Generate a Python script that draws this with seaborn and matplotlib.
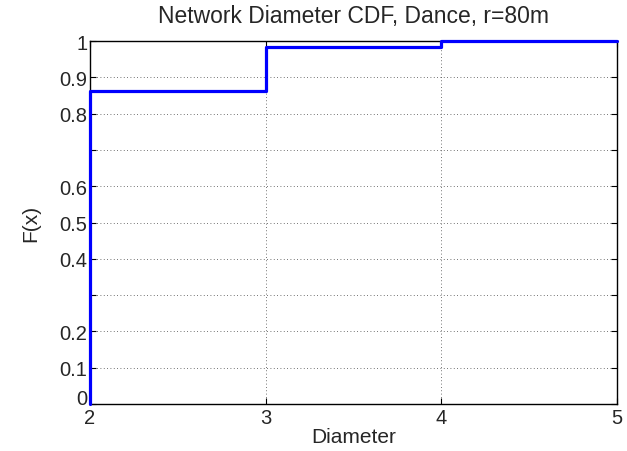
import matplotlib
matplotlib.use("Agg")
import matplotlib.pyplot as plt
import seaborn as sns
import pandas as pd

diameter = [2, 2, 3, 4, 5]
cdf = [0.0, 0.862, 0.983, 1.0, 1.0]
xticks = [2, 3, 4, 5]
yticks = [0, 0.1, 0.2, 0.3, 0.4, 0.5, 0.6, 0.7, 0.8, 0.9, 1.0]
ytick_labels = ["0", "0.1", "0.2", "", "0.4", "0.5", "0.6", "", "0.8", "0.9", "1"]

sns.set_theme(style="white")
plt.rcParams['font.family'] = ['Liberation Sans', 'DejaVu Sans']

df = pd.DataFrame({"Diameter": diameter, "F": cdf})

fig = plt.figure(figsize=(6.27, 4.52), dpi=100)
ax = fig.add_axes([0.1435, 0.104, 0.8405, 0.803])
sns.lineplot(data=df, x="Diameter", y="F", ax=ax, drawstyle="steps-post",
             color="#0000ff", linewidth=2.3, sort=False, estimator=None,
             zorder=5, clip_on=False)
ax.set_xlim(2, 5)
ax.set_ylim(0, 1)
ax.set_xticks(xticks, labels=[str(t) for t in xticks])
ax.set_yticks(yticks, labels=ytick_labels)
ax.grid(True, linestyle=(0, (1, 3)), color="#444444", linewidth=0.6)
ax.tick_params(direction="in", length=4, width=0.8, color="black",
               labelsize=14.5, top=True, right=True, left=True, bottom=True, pad=2)
ax.tick_params(axis="x", pad=3)
ax.yaxis.get_major_ticks()[0].label1.set_verticalalignment("baseline")
for s in ax.spines.values():
    s.set_color("black")
    s.set_linewidth(1.0)
ax.set_xlabel("Diameter", fontsize=15, labelpad=0)
ax.yaxis.set_label_coords(-0.095, 0.5)
ax.set_ylabel("F(x)", fontsize=15)
ax.set_title("Network Diameter CDF, Dance, r=80m", fontsize=16.5, pad=14)
fig.savefig("out.png", dpi=100)
